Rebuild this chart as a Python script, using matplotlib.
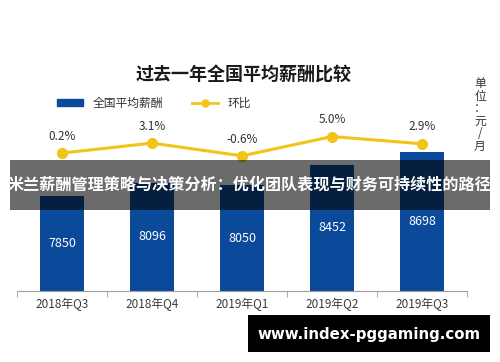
import matplotlib
matplotlib.use("Agg")
import matplotlib.pyplot as plt
from matplotlib.patches import Rectangle
from matplotlib.lines import Line2D
from matplotlib.patches import Patch

plt.rcParams['font.family'] = ['Noto Sans CJK SC', 'DejaVu Sans']

categories = ["2018年Q3", "2018年Q4", "2019年Q1", "2019年Q2", "2019年Q3"]
salary = [7850, 8096, 8050, 8452, 8698]
growth = [0.2, 3.1, -0.6, 5.0, 2.9]
growth_labels = ["0.2%", "3.1%", "-0.6%", "5.0%", "2.9%"]

W, H = 500, 362
fig = plt.figure(figsize=(W/100, H/100), dpi=100)
fig.patch.set_facecolor('white')

def fx(px): return px / W
def fy(py): return 1 - py / H

ax = fig.add_axes([fx(17), fy(291), fx(467) - fx(17), fy(120) - fy(291)])
x = list(range(len(categories)))
bar_color = '#0b4a9a'
ax.bar(x, salary, width=0.49, color=bar_color, zorder=2)
ax.set_xlim(-0.5, 4.5)
ax.set_ylim(6000, 6000 + 171 * 19.4)
for xi, v in zip(x, salary):
    ax.text(xi, (6000 + v) / 2, str(v), ha='center', va='center', color='white', fontsize=9)
for s in ['top', 'left', 'right']:
    ax.spines[s].set_visible(False)
ax.spines['bottom'].set_color('#a0a0a0')
ax.set_yticks([])
ax.set_xticks(x)
ax.set_xticklabels(categories, fontsize=8.5, color='#3a3a3a')
ax.tick_params(axis='x', length=0, pad=5)
ax.set_xticks([-0.5, 0.5, 1.5, 2.5, 3.5, 4.5], minor=True)
ax.tick_params(axis='x', which='minor', length=4, color='#a0a0a0', direction='out')
ax.patch.set_alpha(0)

ax2 = ax.twinx()
ax2.set_ylim(-39.8, 9.8)
line_color = '#f2c417'
ax2.plot(x, growth, color=line_color, lw=2.2, marker='o', ms=7, zorder=3)
for xi, g, lab in zip(x, growth, growth_labels):
    ax2.text(xi, g + 3.0, lab, ha='center', va='bottom', fontsize=8.5, color='#333333')
ax2.set_yticks([])
for s in ['top', 'left', 'right', 'bottom']:
    ax2.spines[s].set_visible(False)

# title
fig.text(fx(244), fy(75), "过去一年全国平均薪酬比较", ha='center', va='center',
         fontsize=13, fontweight='bold', color='#1a1a1a')

# legend
fig.legend(handles=[Patch(color=bar_color, label='全国平均薪酬'),
                    Line2D([0], [0], color=line_color, lw=2, marker='o', ms=5, label='环比')],
           loc='center', bbox_to_anchor=(fx(154), fy(103)), ncol=2, frameon=False,
           fontsize=8.5, handlelength=2.2, handleheight=0.6, columnspacing=2.5,
           labelcolor='#333333')

# unit
fig.text(fx(480), fy(115), "单\n位\n：\n元\n/\n月", ha='center', va='center',
         fontsize=8.5, color='#333333', linespacing=0.95)

# overlay band
fig.patches.append(Rectangle((fx(10), fy(210)), fx(490) - fx(10), fy(160) - fy(210),
                             transform=fig.transFigure, facecolor='black', alpha=0.58,
                             edgecolor='none', zorder=10))
fig.text(fx(250), fy(185), "米兰薪酬管理策略与决策分析：优化团队表现与财务可持续性的路径",
         ha='center', va='center', fontsize=11.6, fontweight='bold', color='white', zorder=11)

# watermark box
fig.patches.append(Rectangle((fx(248), fy(352)), fx(490) - fx(248), fy(315) - fy(352),
                             transform=fig.transFigure, facecolor='black',
                             edgecolor='none', zorder=10))
fig.text(fx(369), fy(334), "www.index-pggaming.com", ha='center', va='center',
         fontsize=10.8, fontweight='bold', color='white', zorder=11, family='DejaVu Sans')

fig.savefig('out.png', dpi=100)
